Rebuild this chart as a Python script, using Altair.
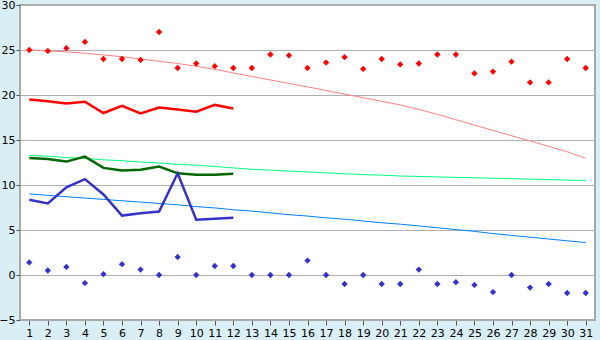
import altair as alt
import pandas as pd

days = list(range(1, 32))
max_daily = [25.0, 24.9, 25.2, 25.9, 24.0, 24.0, 23.9, 27.0, 23.0, 23.5, 23.2, 23.0, 23.0, 24.5, 24.4,
             23.0, 23.6, 24.2, 22.9, 24.0, 23.4, 23.5, 24.5, 24.5, 22.4, 22.6, 23.7, 21.4, 21.4, 24.0, 23.0]
min_daily = [1.4, 0.5, 0.9, -0.9, 0.1, 1.2, 0.6, 0.0, 2.0, 0.0, 1.0, 1.0, 0.0, 0.0, 0.0,
             1.6, 0.0, -1.0, 0.0, -1.0, -1.0, 0.6, -1.0, -0.8, -1.1, -1.9, 0.0, -1.4, -1.0, -2.0, -2.0]
norm_max = [25.0, 24.9, 24.8, 24.65, 24.45, 24.25, 24.0, 23.75, 23.5, 23.2, 22.85, 22.45, 22.06, 21.67, 21.28,
            20.9, 20.5, 20.1, 19.7, 19.3, 18.9, 18.4, 17.85, 17.25, 16.65, 16.06, 15.48, 14.9, 14.3, 13.7, 12.96]
norm_mean = [13.3, 13.2, 13.05, 12.95, 12.8, 12.7, 12.55, 12.45, 12.3, 12.2, 12.05, 11.9, 11.75, 11.65, 11.55,
             11.45, 11.35, 11.25, 11.15, 11.1, 11.0, 10.95, 10.9, 10.85, 10.8, 10.75, 10.7, 10.65, 10.6, 10.55, 10.5]
norm_min = [9.0, 8.85, 8.7, 8.55, 8.4, 8.25, 8.1, 7.95, 7.8, 7.6, 7.45, 7.25, 7.1, 6.9, 6.7,
            6.55, 6.35, 6.2, 6.0, 5.8, 5.65, 5.45, 5.25, 5.05, 4.85, 4.6, 4.4, 4.2, 4.0, 3.8, 3.6]
avg_max = [19.5, 19.3, 19.05, 19.25, 18.0, 18.8, 17.95, 18.6, 18.4, 18.15, 18.9, 18.5]
avg_mean = [13.0, 12.9, 12.6, 13.15, 11.9, 11.6, 11.7, 12.05, 11.3, 11.15, 11.15, 11.25]
avg_min = [8.35, 7.95, 9.75, 10.65, 8.95, 6.6, 6.85, 7.05, 11.3, 6.15, 6.25, 6.35]
y_ticks = [-5, 0, 5, 10, 15, 20, 25, 30]


def frame(vals, name):
    return pd.DataFrame({"day": days[:len(vals)], "value": vals, "series": name})


thin = pd.concat([frame(norm_max, "norm_max"), frame(norm_mean, "norm_mean"), frame(norm_min, "norm_min")])
thick = pd.concat([frame(avg_max, "avg_max"), frame(avg_mean, "avg_mean"), frame(avg_min, "avg_min")])
pts = pd.concat([frame(max_daily, "max_daily"), frame(min_daily, "min_daily")])

color_scale = alt.Scale(
    domain=["norm_max", "norm_mean", "norm_min", "avg_max", "avg_mean", "avg_min", "max_daily", "min_daily"],
    range=["#ff8080", "#00ff80", "#0080ff", "#ff0000", "#006600", "#3333cc", "#ff0000", "#3333cc"],
)

x_enc = alt.X("day:Q", scale=alt.Scale(domain=[0.5, 31.5], nice=False, zero=False),
              axis=alt.Axis(values=days, format="d", grid=False, title=None, labelFlush=False,
                            tickSize=5, labelPadding=2))
y_enc = alt.Y("value:Q", scale=alt.Scale(domain=[-5, 30], nice=False, zero=False),
              axis=alt.Axis(values=y_ticks, grid=True, title=None, tickSize=4, labelPadding=1))
c_enc = alt.Color("series:N", scale=color_scale, legend=None)

thin_layer = alt.Chart(thin).mark_line(strokeWidth=1).encode(x=x_enc, y=y_enc, color=c_enc, detail="series:N")
thick_layer = alt.Chart(thick).mark_line(strokeWidth=2.5).encode(x=x_enc, y=y_enc, color=c_enc, detail="series:N")
pt_layer = alt.Chart(pts).mark_point(shape="diamond", filled=True, size=40, opacity=1).encode(
    x=x_enc, y=y_enc, color=c_enc)

chart = alt.layer(thin_layer, thick_layer, pt_layer).properties(
    width=575, height=315,
    autosize=alt.AutoSizeParams(type="none"),
    padding={"left": 20, "top": 5, "right": 5, "bottom": 20},
    background="#d9eef5",
).configure_view(
    fill="white", stroke="#a8a8a8", strokeWidth=2,
).configure_axis(
    domainColor="#a8a8a8", tickColor="#555555", gridColor="#b0b0b0", gridWidth=1,
    labelFont="DejaVu Sans", labelFontSize=11, labelColor="black",
)

chart.save("out.html", embed_options={"renderer": "svg", "actions": False})
